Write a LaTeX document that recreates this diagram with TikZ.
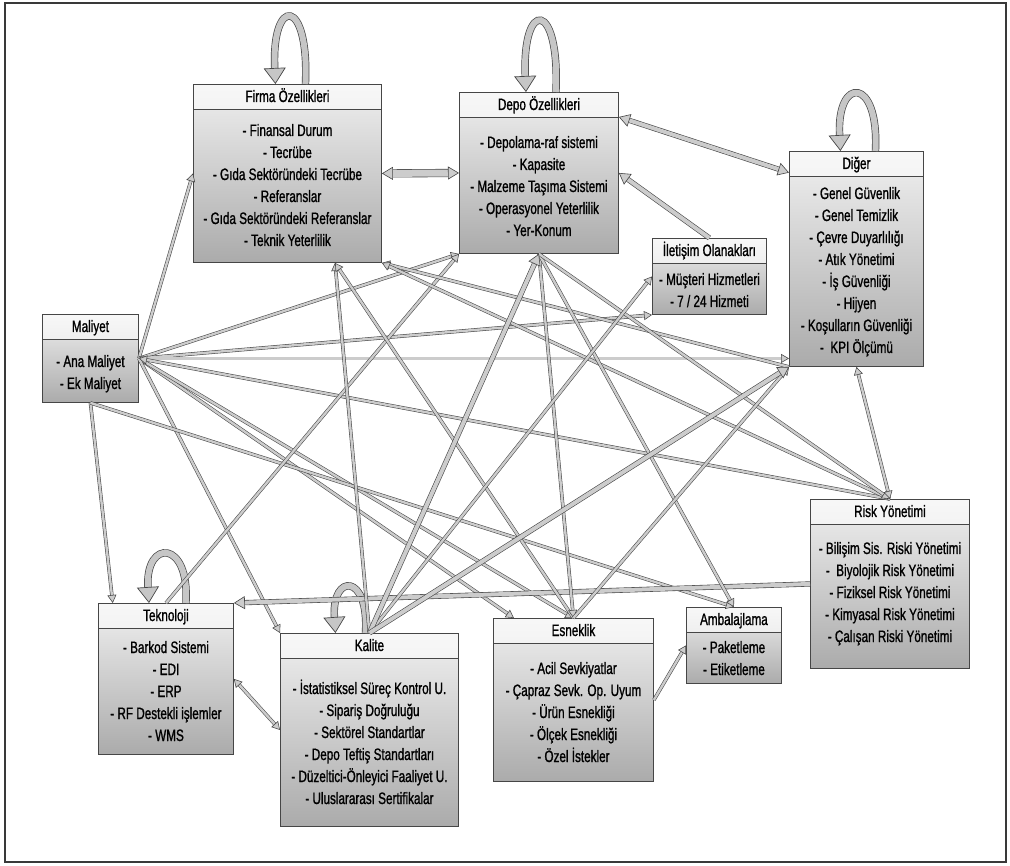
\documentclass[tikz,border=0pt]{standalone}
\usepackage{fontspec}
\setmainfont{Liberation Sans}[FakeStretch=0.71,FakeBold=1.1]
\usetikzlibrary{arrows.meta}
% kutu: name, x, y, width, height, title, first line offset, items
\newcommand{\kutu}[8]{%
  \node[kutu, minimum width=#4pt, minimum height=#5pt] (#1) at (#2,#3) {};%
  \node[baslik] (#1-b) at ([yshift=-18pt]#1.north) {#6};%
  \foreach \t [count=\i] in {#8}
    \node[madde] (#1-\i) at ([yshift={-(#7+6+22*(\i-1))*1pt}]#1.north) {\t};%
}
% dongu: node, tip offset, tail offset, height
\newcommand{\dongu}[4]{%
  \draw[dongu] ([xshift=#3pt]#1.north) .. controls +(4,-#4) and +(-4,-#4) .. ([xshift=#2pt]#1.north);%
}

\begin{document}
\begin{tikzpicture}[x=1pt,y=-1pt,
  kutu/.style={draw=gray!55!black, line width=0.9pt, anchor=north west, inner sep=0pt,
    top color=gray!12, bottom color=gray!66,
    path picture={\shade[top color=gray!6, bottom color=gray!26]
        (path picture bounding box.north west) rectangle ([yshift=-25pt]path picture bounding box.north east);
      \draw[gray!55!black, line width=0.9pt] ([yshift=-25pt]path picture bounding box.north west)
        -- ([yshift=-25pt]path picture bounding box.north east);}},
  baslik/.style={anchor=base, inner sep=0pt, font=\fontsize{16.5}{22}\selectfont},
  madde/.style={anchor=base, inner sep=0pt, font=\fontsize{16.5}{22}\selectfont},
  bag/.style={draw=gray!55!black, line width=0.55pt, double=gray!40, double distance=2.4pt,
    >={Triangle[length=8pt,width=9pt,fill=gray!40]}},
  kalin/.style={draw=gray!55!black, line width=0.6pt, double=gray!40, double distance=4pt,
    >={Triangle[length=11pt,width=13pt,fill=gray!40]}},
  dongu/.style={draw=gray!55!black, line width=0.7pt, double=gray!45, double distance=6pt,
    >={Triangle[length=16pt,width=22pt,fill=gray!45]}, ->}]
\useasboundingbox (0,0) rectangle (1010,866);
\draw[gray!45!black, line width=1.2pt] (5,3) rectangle (1006,862);

% boxes
\kutu{firma}{193}{84}{188}{178}{Firma Özellikleri}{46}{- Finansal Durum, - Tecrübe, - Gıda Sektöründeki Tecrübe, - Referanslar, - Gıda Sektöründeki Referanslar, - Teknik Yeterlilik}
\kutu{depo}{459}{92}{159}{161}{Depo Özellikleri}{50}{- Depolama-raf sistemi, - Kapasite, - Malzeme Taşıma Sistemi, - Operasyonel Yeterlilik, - Yer-Konum}
\kutu{diger}{789}{151}{134}{215}{Diğer}{42}{- Genel Güvenlik, - Genel Temizlik, - Çevre Duyarlılığı, - Atık Yönetimi, - İş Güvenliği, - Hijyen, - Koşulların Güvenliği, - \ KPI Ölçümü}
\kutu{iletisim}{652}{238}{114}{76}{İletişim Olanakları}{41}{- Müşteri Hizmetleri, - 7 / 24 Hizmeti}
\kutu{maliyet}{42}{314}{96}{88}{Maliyet}{47}{- Ana Maliyet, - Ek Maliyet}
\kutu{teknoloji}{98}{603}{135}{151}{Teknoloji}{44}{- Barkod Sistemi, - EDI, - ERP, - RF Destekli işlemler, - WMS}
\kutu{kalite}{280}{633}{178}{193}{Kalite}{55}{- İstatistiksel Süreç Kontrol U., - Sipariş Doğruluğu, - Sektörel Standartlar, - Depo Teftiş Standartları, - Düzeltici-Önleyici Faaliyet U., - Uluslararası Sertifikalar}
\kutu{esneklik}{493}{618}{160}{163}{Esneklik}{50}{- Acil Sevkiyatlar, - Çapraz Sevk. Op. Uyum, - Ürün Esnekliği, - Ölçek Esnekliği, - Özel İstekler}
\kutu{ambalaj}{686}{607}{95}{76}{Ambalajlama}{40}{- Paketleme, - Etiketleme}
\kutu{risk}{810}{499}{159}{169}{Risk Yönetimi}{49}{- Bilişim Sis. Riski Yönetimi, - \ Biyolojik Risk Yönetimi, - Fiziksel Risk Yönetimi, - Kimyasal Risk Yönetimi, - Çalışan Riski Yönetimi}

% self loops
\dongu{firma}{-12}{18}{88}
\dongu{depo}{-13}{17}{93}
\dongu{diger}{-16}{19}{75}
\dongu{teknoloji}{-17}{20}{64}
\dongu{kalite}{-34}{-4}{60}

% links out of Maliyet
\draw[bag,->] (maliyet.east) -- (firma.west);
\draw[bag,->] (maliyet.east) -- (depo.south west);
\draw[bag,->] (maliyet.east) -- (iletisim.south west);
\draw[bag,->] (maliyet.east) -- (maliyet.east -| diger.west);
\draw[bag,->] (maliyet.east) -- (esneklik.126);
\draw[bag,->] (maliyet.east) -- (esneklik.north);
\draw[bag,->] (maliyet.east) -- (kalite.north west);
\draw[bag,->] (maliyet.south) -- (teknoloji.125);
\draw[bag,->] (maliyet.south) -- (ambalaj.north);
\draw[bag,->] (risk.north) -- (maliyet.east);

% the other links
\draw[bag,->] (teknoloji.north) -- (depo.south west);
\draw[kalin,->] (risk.west) -- (teknoloji.north east);
\draw[bag,<->] (teknoloji.east) -- (kalite.west);
\draw[bag,->] (kalite.north) -- (firma.-62);
\draw[bag,->] (esneklik.north) -- (firma.-62);
\draw[bag,->] (diger.south west) -- (firma.south east);
\draw[bag,->] (risk.north) -- (firma.south east);
\draw[bag,->] (depo.south) -- (esneklik.north);
\draw[bag,->] (depo.south) -- (ambalaj.north);
\draw[bag,->] (depo.south) -- (risk.north);
\draw[bag,<->] (diger.south) -- (risk.north);
\draw[bag,->] (esneklik.north) -- (diger.south west);
\draw[bag,->] (esneklik.east) -- (ambalaj.west);
\draw[bag,->] (kalite.north) -- (iletisim.west);

% thick ones
\draw[kalin,<->,double distance=7pt] (firma.east) -- (depo.west);
\draw[kalin,<->] (depo.35) -- (diger.128);
\draw[kalin,->] (iletisim.north) -- (depo.east);
\draw[kalin,->] (kalite.north) -- (depo.south);
\draw[kalin,->] (kalite.north) -- (diger.south west);
\end{tikzpicture}
\end{document}
